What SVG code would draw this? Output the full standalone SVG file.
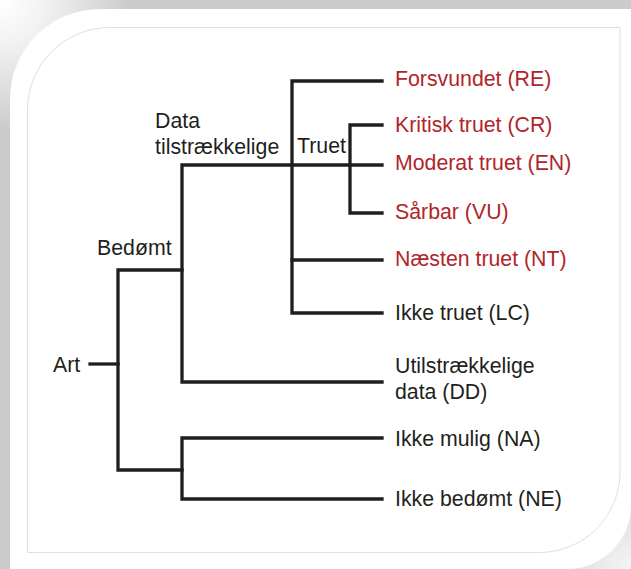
<svg xmlns="http://www.w3.org/2000/svg" width="631" height="569" viewBox="0 0 631 569">
  <defs>
    <radialGradient id="tl" cx="0" cy="0" r="130" gradientUnits="userSpaceOnUse">
      <stop offset="0" stop-color="#ffffff"/>
      <stop offset="0.35" stop-color="#f2f2f2"/>
      <stop offset="1" stop-color="#f2f2f2" stop-opacity="0"/>
    </radialGradient>
    <radialGradient id="br" cx="631" cy="569" r="110" gradientUnits="userSpaceOnUse">
      <stop offset="0" stop-color="#f4f4f4"/>
      <stop offset="0.4" stop-color="#e6e6e6"/>
      <stop offset="1" stop-color="#e6e6e6" stop-opacity="0"/>
    </radialGradient>
  </defs>
  <style>
    .t { font-family: "Liberation Sans", Arial, sans-serif; font-size: 21.3px; fill: #231f20; }
    .r { fill: #b1252a; }
    .c { fill: none; stroke: #1e1e1e; stroke-width: 3.3; stroke-linecap: square; stroke-linejoin: miter; }
  </style>
  <rect x="0" y="0" width="631" height="569" fill="#cbcbcb"/>
  <rect x="0" y="0" width="631" height="569" fill="url(#tl)"/>
  <rect x="0" y="0" width="631" height="569" fill="url(#br)"/>
  <path d="M10,99 A90,90 0 0 1 100,9 L631,9 L631,505 A64,64 0 0 1 567,569 L10,569 Z" fill="#ffffff"/>
  <path d="M27.5,110 A82.5,82.5 0 0 1 110,27.5 L620,27.5 L620,472 A80.5,80.5 0 0 1 539.5,552.5 L27.5,552.5 Z" fill="none" stroke="#e0e0e0" stroke-width="1"/>

  <g id="connectors" class="c">
    <path d="M90,364 H118"/>
    <path d="M182,270 H118 V470 H182"/>
    <path d="M382,165 H182 V382 H382"/>
    <path d="M382,81 H292 V313 H382"/>
    <path d="M292,260 H382"/>
    <path d="M382,125 H350 V213 H382"/>
    <path d="M382,438 H182 V499 H382"/>
  </g>

  <g id="art"><text class="t" x="53" y="372">Art</text></g>
  <g id="bedomt"><text class="t" x="97" y="255">Bedømt</text></g>
  <g id="data"><text class="t" x="155" y="128">Data</text><text class="t" x="155" y="154">tilstrækkelige</text></g>
  <g id="truet"><text class="t" x="297" y="153">Truet</text></g>
  <g id="re"><text class="t r" x="395" y="86">Forsvundet (RE)</text></g>
  <g id="cr"><text class="t r" x="395" y="132">Kritisk truet (CR)</text></g>
  <g id="en"><text class="t r" x="395" y="170">Moderat truet (EN)</text></g>
  <g id="vu"><text class="t r" x="395" y="219">Sårbar (VU)</text></g>
  <g id="nt"><text class="t r" x="395" y="266">Næsten truet (NT)</text></g>
  <g id="lc"><text class="t" x="395" y="320">Ikke truet (LC)</text></g>
  <g id="dd"><text class="t" x="395" y="373">Utilstrækkelige</text><text class="t" x="395" y="399">data (DD)</text></g>
  <g id="na"><text class="t" x="395" y="446">Ikke mulig (NA)</text></g>
  <g id="ne"><text class="t" x="395" y="506">Ikke bedømt (NE)</text></g>
</svg>
